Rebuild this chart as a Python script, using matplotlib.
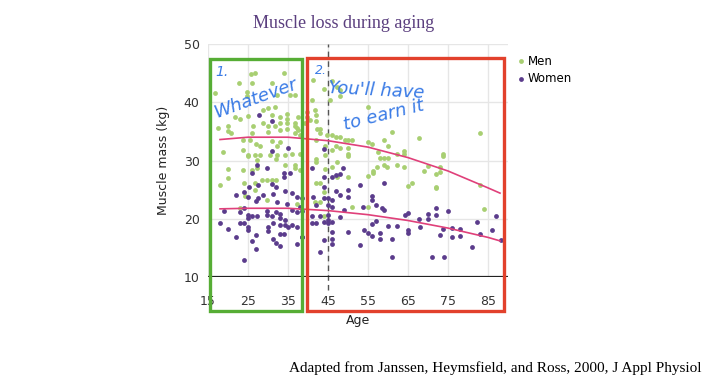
import numpy as np
import matplotlib
matplotlib.use("Agg")
import matplotlib.pyplot as plt
from matplotlib.patches import Rectangle

# -----------------------------
# Data
# -----------------------------
men_age = [83, 67.8, 64, 64, 73.8, 73.8, 64, 70.1, 73, 69.1, 72, 73, 83, 65.9, 65, 72, 72, 84.1,
           42, 42, 44.25, 45.9, 47.2, 50.1, 50.1, 47.2, 42, 43, 44.1, 41.75, 43, 44.1, 51.1, 55.1,
           56.2, 56.2, 57.2, 58, 59, 60.1, 59.1, 59.8, 62.3, 54.9,
           46.1, 47.2, 48, 44.1, 48, 45.5, 41.3, 40.9, 41.75, 42, 40.5, 42, 42.3, 43, 43, 42, 44.7,
           46.1, 47, 48, 49.25, 47, 50.1, 50.9, 55.1, 56.1, 59.1, 60.9, 60.1, 50.1, 50.1, 48, 46.1,
           57.4, 62.2, 44.25, 44.25, 54.9,
           34, 26.75, 25.7, 22.75, 25.9, 30.9, 24.7, 24.7, 16.75, 36.75, 35.5, 32.2, 31.75, 30.1,
           28.8, 34.7, 30.9, 33, 21.75, 23, 25.1, 34.7, 33, 34.7, 37.6, 28.8, 30.1, 17.6, 19.9, 26.3,
           31.75, 36.75, 37.2, 34.7, 33, 20.75, 25.9, 30.1, 36.75, 38, 23.8, 25.5, 30.9, 33, 26.9, 28,
           32.2, 18.8, 23.8, 25.1, 26.75, 28, 30.5, 32.2, 34.25, 35.9, 38,
           25.1, 27.2, 32, 34.25, 36.75, 36.75, 38, 19.9, 19.9, 18, 23.8, 25.9, 27.2, 28.4, 29.8,
           30.9, 32, 24, 26.75, 24.25, 26.75, 29.8, 23, 37.2,
           19.9, 39.7, 39.7, 39.25, 36.75, 37.6]
men_mass = [34.8, 33.9, 31.7, 31.2, 31.1, 30.7, 28.9, 29.1, 28.8, 28.2, 27.7, 28.0, 25.8, 26.1, 25.7, 25.5, 25.2, 21.6,
            30.3, 29.8, 28.5, 28.9, 29.8, 30.8, 27.1, 27.2, 26.1, 26.1, 24.6, 22.9, 22.9, 20.4, 22.1, 27.4,
            28.2, 27.8, 28.9, 30.4, 30.4, 30.4, 29.2, 28.8, 29.2, 22.1,
            43.6, 42.7, 42.1, 42.2, 41.0, 40.4, 43.8, 40.4, 38.7, 37.8, 37.0, 36.7, 35.4, 35.4, 34.7, 33.6, 34.4,
            34.4, 34.1, 34.0, 33.6, 32.5, 33.5, 33.5, 33.1, 32.8, 33.6, 34.9, 32.5, 32.1, 31.2, 32.1, 31.8,
            31.5, 31.2, 32.5, 30.9, 39.1,
            45.1, 45.0, 44.8, 43.3, 43.3, 43.3, 41.8, 41.0, 41.6, 41.2, 41.2, 41.2, 39.2, 39.0,
            38.7, 38.0, 37.8, 37.5, 37.5, 37.1, 37.6, 37.1, 36.5, 36.4, 37.4, 36.5, 35.9, 35.5, 35.1, 35.9,
            35.9, 35.9, 35.5, 35.4, 35.2, 34.8, 34.7, 34.9, 34.8, 34.4, 33.6, 33.5, 33.4, 33.2, 32.8, 32.5,
            32.5, 31.5, 31.8, 30.9, 30.9, 30.9, 30.9, 30.9, 30.9, 31.2, 31.2,
            30.7, 30.1, 30.3, 29.2, 29.2, 28.7, 28.4, 28.5, 27.0, 25.8, 28.4, 28.4, 28.7, 26.7, 26.7,
            26.7, 26.7, 26.1, 26.1, 23.9, 24.9, 23.2, 21.8, 22.6,
            36.0, 38.4, 37.5, 36.4, 36.4, 35.2]

women_age = [64.2, 65, 67.8, 70.1, 70.1, 72, 72, 75.1, 65, 65, 68, 73, 73.8, 76.1, 76.1, 78, 78, 82.2,
             83, 86, 87.1, 88.2, 81.1, 71.1, 74,
             40.9, 44.1, 46.1, 47, 48, 48.8, 44.1, 47, 50.1, 50.1, 53, 48, 41.2, 44.1, 45.1, 46.1, 42,
             45.1, 46.1, 49, 53.8, 55.9, 55.9, 57, 59, 58.4, 43, 45.1, 45.1, 45.1, 42, 44, 40.9, 40.9,
             48, 46.1, 46.1, 46.1, 46.1, 44.1, 43, 50.1, 53, 54, 55.1, 56.1, 56.1, 57, 58, 58, 60.1,
             61.1, 61.1, 62.2, 59, 38.4,
             44, 27.8, 30.9, 30.9, 34.9,
             27.2, 29.8, 34, 34, 35.5, 25.9, 30.9, 32, 27.6, 25.25, 24, 22, 25.1, 28.8, 27.6, 31.2,
             34.25, 36.1, 37.2, 38.4, 27, 32.2, 34.7, 38, 19, 23, 24, 25.1, 25.1, 26.1, 27.2, 29.8,
             29.8, 30.9, 32, 33, 33, 34.25, 36.1, 37.2, 38.4, 18, 23, 24, 25.1, 25.1, 20.1, 30.1, 30.1,
             31.2, 33, 34.25, 35.1, 36.1, 37.2, 33, 34, 27, 22, 31.2, 26.1, 32, 33, 37.2, 27, 24, 38.4]
women_mass = [20.6, 21.0, 20.0, 20.8, 20.0, 21.9, 20.7, 21.4, 18.0, 17.5, 18.6, 17.2, 18.2, 18.4, 16.9, 18.2, 17.1, 19.4,
              17.3, 18.1, 20.5, 16.4, 15.1, 13.4, 13.4,
              28.7, 27.2, 27.2, 27.5, 27.6, 28.7, 25.5, 24.8, 24.9, 23.8, 25.8, 24.0, 23.7, 23.5, 23.5, 23.3, 22.4,
              22.4, 22.0, 21.5, 22.1, 23.9, 23.3, 22.4, 26.1, 21.8, 20.4, 20.6, 19.8, 19.2, 19.2, 19.5, 20.4, 19.2,
              20.3, 19.5, 17.7, 16.6, 15.6, 16.4, 14.3, 17.7, 15.5, 18.0, 17.5, 17.0, 19.1, 19.7, 17.5, 16.6, 18.8,
              16.6, 13.4, 18.8, 21.5, 16.9,
              32.0, 37.8, 36.7, 31.7, 32.1,
              29.2, 28.7, 27.8, 27.2, 27.8, 27.8, 26.0, 25.5, 25.8, 25.4, 24.6, 24.1, 23.8, 24.0, 23.5, 24.2,
              24.8, 24.5, 23.8, 23.5, 23.1, 22.9, 22.6, 22.1, 21.3, 21.2, 21.8, 20.6, 20.2, 20.4, 20.4, 21.3,
              20.6, 20.5, 21.2, 20.8, 20.1, 19.8, 21.5, 21.2, 21.3, 19.2, 19.2, 19.2, 18.6, 18.1, 18.2, 18.5, 17.9,
              19.2, 19.0, 19.0, 18.6, 19.0, 18.6, 17.3, 17.3, 17.2, 16.8, 16.6, 16.1, 15.8, 15.4, 15.6, 14.8, 12.9, 16.9]

# trend lines
fit_age = [18, 25, 35, 45, 55, 65, 75, 85, 88]
men_fit = [33.6, 34.0, 34.0, 33.4, 32.3, 30.5, 28.2, 25.3, 24.4]
women_fit = [21.7, 21.8, 21.8, 21.4, 20.7, 19.7, 18.4, 16.8, 16.2]

x_ticks = [15, 25, 35, 45, 55, 65, 75, 85]
y_ticks = [10, 20, 30, 40, 50]

GREEN = "#a8cf72"
PURPLE = "#5b3c8c"
PINK = "#e0407a"
INK = "#3a7be6"

# -----------------------------
# Plot
# -----------------------------
fig = plt.figure(figsize=(7.21, 3.85), dpi=100)
ax = fig.add_axes([0.2885, 0.2805, 0.4161, 0.6052])

ax.set_xlim(15, 90)
ax.set_ylim(10, 50)
ax.set_xticks(x_ticks)
ax.set_yticks(y_ticks)
ax.grid(True, color="#e6e6e6", lw=1)
ax.set_axisbelow(True)
for s in ax.spines.values():
    s.set_visible(False)
ax.tick_params(length=0, labelsize=9, labelcolor="#333333")
ax.tick_params(axis="x", pad=13)
ax.tick_params(axis="y", pad=6)
ax.axhline(10, color="#222222", lw=1.6, zorder=3)

ax.plot([45, 45], [7.8, 50], color="#555555", lw=1, ls=(0, (4, 3)), clip_on=False, zorder=2)

ax.scatter(men_age, men_mass, s=12, color=GREEN, lw=0, label="Men", zorder=3)
ax.scatter(women_age, women_mass, s=12, color=PURPLE, lw=0, label="Women", zorder=3)
ax.plot(fit_age, men_fit, color=PINK, lw=1.2, zorder=4)
ax.plot(fit_age, women_fit, color=PINK, lw=1.2, zorder=4)

ax.set_xlabel("Age", fontsize=9, color="#222222", labelpad=4)
ax.set_ylabel("Muscle mass (kg)", fontsize=9, color="#222222", labelpad=10)

leg = ax.legend(loc="upper left", bbox_to_anchor=(1.0, 0.985), frameon=False,
                handletextpad=0.1, handlelength=1.0, fontsize=8.5, labelspacing=0.35,
                borderaxespad=0.2)

fig.text(0.476, 0.94, "Muscle loss during aging", ha="center", va="center",
         family="Liberation Serif", fontsize=13, color="#5b3f7f")

# hand-drawn boxes
ax.add_patch(Rectangle((15.5, 4.16), 23.0, 43.3, fill=False, ec="#56ad35", lw=2.4,
                       clip_on=False, zorder=5))
ax.add_patch(Rectangle((39.75, 4.16), 49.25, 43.4, fill=False, ec="#e2412c", lw=2.4,
                       clip_on=False, zorder=5))

hand = dict(color=INK, family="DejaVu Sans", style="italic", zorder=6)
ax.text(18.5, 45.2, "1.", fontsize=10, ha="center", va="center", **hand)
ax.text(26.8, 40.6, "Whatever", fontsize=13, rotation=20, ha="center", va="center", **hand)
ax.text(43.3, 45.4, "2.", fontsize=9, ha="center", va="center", **hand)
ax.text(57.0, 42.0, "You'll have", fontsize=13, rotation=-3, ha="center", va="center", **hand)
ax.text(59.0, 37.8, "to earn it", fontsize=13, rotation=14, ha="center", va="center", **hand)

fig.text(0.973, 0.045, "Adapted from Janssen, Heymsfield, and Ross, 2000, J Appl Physiol",
         ha="right", va="center", family="Liberation Serif", fontsize=11, color="black")

fig.savefig("out.png", dpi=100)
